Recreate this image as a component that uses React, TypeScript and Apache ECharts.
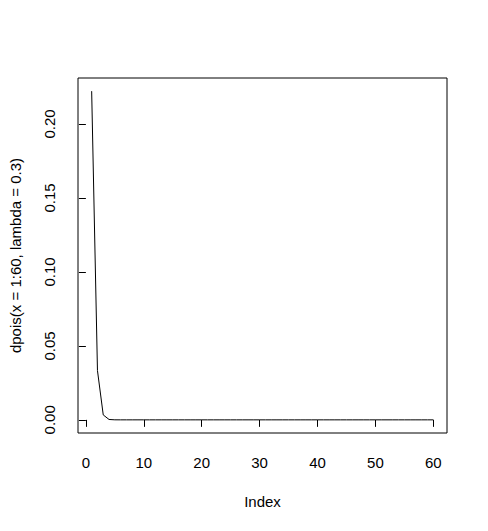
import React, { useEffect, useRef } from "react";
import * as echarts from "echarts";

const indexValues = [
  1, 2, 3, 4, 5, 6, 7, 8, 9, 10, 11, 12, 13, 14, 15, 16, 17, 18, 19, 20,
  21, 22, 23, 24, 25, 26, 27, 28, 29, 30, 31, 32, 33, 34, 35, 36, 37, 38, 39, 40,
  41, 42, 43, 44, 45, 46, 47, 48, 49, 50, 51, 52, 53, 54, 55, 56, 57, 58, 59, 60,
];
const dpoisValues = [
  0.2222, 0.03334, 0.003334, 0.00025, 0.000015, 0.00000075, 0.000000032, 0.0000000012, 0, 0,
  0, 0, 0, 0, 0, 0, 0, 0, 0, 0,
  0, 0, 0, 0, 0, 0, 0, 0, 0, 0,
  0, 0, 0, 0, 0, 0, 0, 0, 0, 0,
  0, 0, 0, 0, 0, 0, 0, 0, 0, 0,
  0, 0, 0, 0, 0, 0, 0, 0, 0, 0,
];
const xTicks = [0, 10, 20, 30, 40, 50, 60];
const yTicks = [0, 0.05, 0.1, 0.15, 0.2];
const xTitle = "Index";
const yTitle = "dpois(x = 1:60, lambda = 0.3)";

const FONT = "'Liberation Sans', Arial, sans-serif";

export default function App() {
  const ref = useRef<HTMLDivElement>(null);
  useEffect(() => {
    if (!ref.current) return;
    const chart = echarts.init(ref.current, undefined, { renderer: "svg" });
    const data = indexValues.map((x, i) => [x, dpoisValues[i]]);
    chart.setOption({
      animation: false,
      backgroundColor: "#ffffff",
      textStyle: { fontFamily: FONT, color: "#000" },
      grid: {
        left: 78,
        top: 78,
        right: 41,
        bottom: 98,
        show: true,
        borderColor: "#000",
        borderWidth: 1,
        backgroundColor: "transparent",
      },
      xAxis: {
        type: "value",
        min: -1.36,
        max: 62.36,
        name: xTitle,
        nameLocation: "middle",
        nameGap: 61,
        nameTextStyle: { fontFamily: FONT, fontSize: 15, color: "#000" },
        axisLine: { show: false },
        splitLine: { show: false },
        axisTick: {
          show: true,
          length: 7,
          inside: false,
          customValues: xTicks,
          lineStyle: { color: "#000", width: 1 },
        },
        axisLabel: {
          show: true,
          customValues: xTicks,
          margin: 22,
          fontFamily: FONT,
          fontSize: 15,
          color: "#000",
          formatter: (v: number) => String(v),
        },
      },
      yAxis: {
        type: "value",
        min: -0.00889,
        max: 0.2311,
        name: yTitle,
        nameLocation: "middle",
        nameGap: 55,
        nameRotate: 90,
        nameTextStyle: { fontFamily: FONT, fontSize: 15, color: "#000" },
        axisLine: { show: false },
        splitLine: { show: false },
        axisTick: {
          show: true,
          length: 7,
          inside: false,
          customValues: yTicks,
          lineStyle: { color: "#000", width: 1 },
        },
        axisLabel: {
          show: true,
          customValues: yTicks,
          rotate: 90,
          margin: 21,
          fontFamily: FONT,
          fontSize: 15,
          color: "#000",
          formatter: (v: number) => v.toFixed(2),
        },
      },
      series: [
        {
          type: "line",
          data,
          showSymbol: false,
          symbol: "none",
          lineStyle: { color: "#000", width: 1 },
          clip: false,
        },
      ],
    });
    return () => chart.dispose();
  }, []);
  return (
    <div
      ref={ref}
      style={{ position: "fixed", left: 0, top: 0, width: 488, height: 531, background: "#fff" }}
    />
  );
}
